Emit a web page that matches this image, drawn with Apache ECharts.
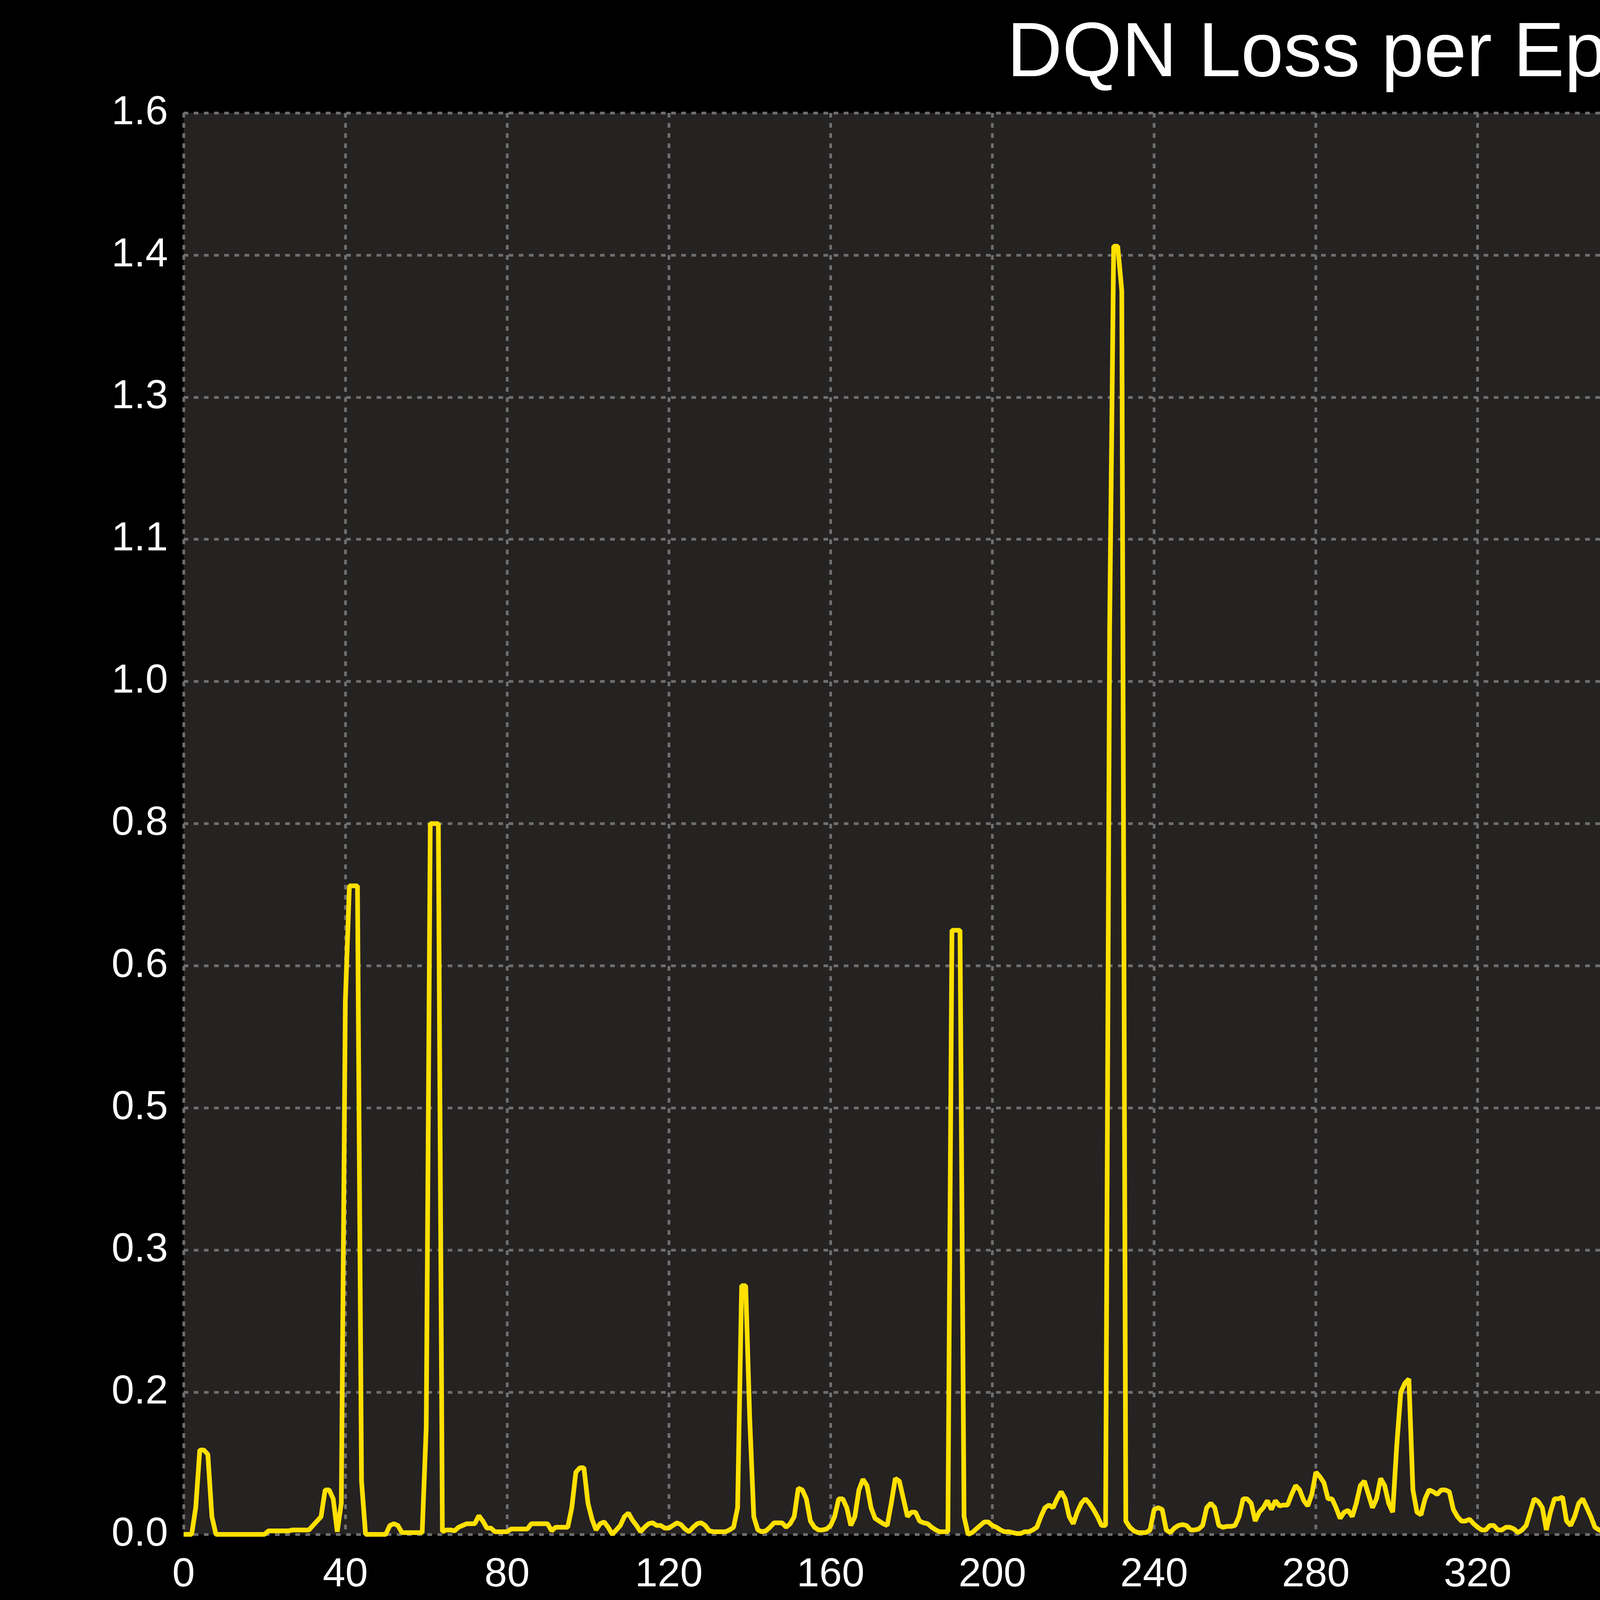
<!DOCTYPE html>
<html>
<head>
    <meta charset="utf-8">
    <title>DQN Loss per Episode</title>
    <script src="https://cdn.jsdelivr.net/npm/echarts@6/dist/echarts.min.js"></script>
    <style>
        html, body { margin: 0; padding: 0; background: #000; }
        #chart { width: 7680px; height: 4320px; }
    </style>
</head>
<body>
<div id="chart"></div>
<script type="text/javascript">
    // loss per episode, episode = index
    const loss = [
        0,0,0,0.03,0.095,0.095,0.09,0.02,0,0,
        0,0,0,0,0,0,0,0,0,0,
        0,0.004,0.004,0.004,0.004,0.004,0.004,0.005,0.005,0.005,
        0.005,0.005,0.01,0.015,0.02,0.05,0.05,0.04,0.003,0.035,
        0.6,0.73,0.73,0.73,0.06,0,0,0,0,0,
        0,0.01,0.012,0.01,0.002,0.002,0.002,0.002,0.002,0.002,
        0.12,0.8,0.8,0.8,0.003,0.005,0.005,0.004,0.008,0.01,
        0.012,0.012,0.012,0.021,0.015,0.007,0.007,0.003,0.003,0.003,
        0.003,0.006,0.006,0.006,0.006,0.006,0.012,0.012,0.012,0.012,
        0.012,0.004,0.008,0.008,0.008,0.008,0.03,0.07,0.075,0.075,
        0.035,0.017,0.005,0.012,0.014,0.008,0.0,0.005,0.01,0.02,
        0.024,0.016,0.01,0.003,0.008,0.012,0.013,0.01,0.01,0.007,
        0.007,0.01,0.013,0.011,0.006,0.003,0.008,0.012,0.013,0.01,
        0.004,0.003,0.003,0.003,0.003,0.005,0.008,0.03,0.28,0.28,
        0.13,0.02,0.005,0.003,0.004,0.008,0.013,0.013,0.013,0.008,
        0.012,0.02,0.052,0.05,0.04,0.015,0.008,0.005,0.005,0.006,
        0.01,0.02,0.04,0.04,0.03,0.01,0.02,0.05,0.062,0.055,
        0.03,0.018,0.015,0.012,0.01,0.035,0.063,0.06,0.04,0.02,
        0.025,0.025,0.015,0.013,0.012,0.008,0.005,0.003,0.003,0.003,
        0.68,0.68,0.68,0.02,0.0,0.002,0.006,0.01,0.014,0.014,
        0.01,0.008,0.005,0.003,0.003,0.002,0.001,0.001,0.003,0.003,
        0.005,0.008,0.02,0.03,0.033,0.03,0.04,0.048,0.04,0.02,
        0.012,0.025,0.035,0.04,0.035,0.028,0.02,0.01,0.01,1.02,
        1.45,1.45,1.4,0.015,0.008,0.004,0.002,0.002,0.002,0.005,
        0.028,0.03,0.028,0.005,0.002,0.007,0.01,0.011,0.01,0.005,
        0.005,0.006,0.01,0.03,0.035,0.03,0.01,0.008,0.009,0.009,
        0.01,0.02,0.04,0.04,0.035,0.015,0.025,0.03,0.038,0.028,
        0.038,0.032,0.033,0.033,0.045,0.055,0.05,0.038,0.032,0.045,
        0.07,0.065,0.058,0.04,0.04,0.03,0.018,0.025,0.027,0.02,
        0.035,0.055,0.06,0.045,0.03,0.04,0.063,0.055,0.035,0.025,
        0.1,0.16,0.17,0.175,0.05,0.025,0.022,0.04,0.05,0.048,
        0.045,0.05,0.05,0.048,0.028,0.02,0.015,0.015,0.017,0.012,
        0.008,0.005,0.005,0.01,0.01,0.005,0.005,0.008,0.008,0.006,
        0.002,0.005,0.01,0.025,0.04,0.037,0.03,0.005,0.025,0.04,
        0.04,0.042,0.015,0.01,0.02,0.035,0.04,0.03,0.02,0.008,
        0.005,0.003,0.003,0.003,0.003,0.003,0.003,0,0.003,0.007,
        0.01,0.008,0.012,0.015,0.017,0.01,0.006,0.008,0.03,0.058,
        0.055,0.045,0.005,0.004,0.006,0.01,0.018,0.025,0.028,0.03,
        0.02,0.015,0.01,0.012,0.018,0.022,0.04,0.09,0.18,0.17,
        0.15,0.02,0.013,0.015,0.022,0.03,0.035,0.033,0.035,0.025,
        0.028,0.03,0.035,0.042,0.04,0.035,0.025,0.022,0.025,0.025,
        0.018,0.018,0.02,0.06,0.06,0.05,0.015,0.05,0.15,0.175,
        0.18,0.12,0.05,0.03,0.02,0.01,0.02,0.03,0.035,0.025,
        0.017,0.025,0.035,0.038,0.035,0.035,0.035,0.018,0.01,0.013,
        0.02,0.025,0.027,0.027,0.027,0.02,0.015,0.015,0.018,0.022,
        0.022,0.02,0.022,0.022,0.012,0.01,0.02,0.045,0.048,0.035,
        0.012,0.01,0.025,0.05,0.055,0.045,0.02,0.007,0.005,0.008,
        0.012,0.025,0.03,0.025,0.015,0.022,0.025,0.025,0.04,0.052,
        0.052,0.015,0.013,0.013,0.022,0.035,0.042,0.042,0.025,0.018,
        0.012,0.008,0.006,0.006,0.013,0.02,0.045,0.05,0.057,0.052,
        0.05,0.04,0.025,0.017,0.022,0.017,0.018,0.025,0.026,0.028,
        0.015,0.012,0.008,0.01,0.012,0.03,0.03,0.022,0.015,0.015,
        0.015,0.015,0.018,0.035,0.03,0.025,0.008,0.013,0.018,0.015,
        0.008,0.012,0.015,0.03,0.03,0.03,0.025,0.02,0.025,0.018,
        0.015,0.01,0.005,0.008,0.01,0.01,0.007,0.007,0.007,0.008,
        0.02,0.022,0.022,0.01,0.008,0.007,0.007,0.01,0.013,0.015,
        0.02,0.025,0.023,0.01,0.003,0.007,0.013,0.02,0.018,0.013,
        0.003,0.005,0.008,0.008,0.01,0.02,0.022,0.02,0.012,0.012,
        0.01,0.01,0.01,0.013,0.015,0.015,0.01,0.002,0.003,0.007,
        0.007,0.006,0.004,0.003,0.003,0.003,0.003,0.002,0.002,0.005
    ];
    const titleText = 'DQN Loss per Episode';
    const yNote = 'y= Loss';
    const xNote = 'x= Episode';

    const points = loss.map((v, i) => [i, v]);
    const gridLine = { show: true, lineStyle: { color: '#6e6e6e', width: 7, type: [12, 14] } };
    const font = 'Liberation Sans, Arial, sans-serif';

    let myChart = echarts.init(document.getElementById('chart'));
    myChart.setOption({
        backgroundColor: '#000000',
        animation: false,
        title: {
            text: titleText,
            left: 3575, top: 38, textAlign: 'center',
            textStyle: { color: '#ffffff', fontSize: 196, fontWeight: 'normal', fontFamily: font }
        },
        grid: {
            left: 470, right: 1009, top: 289, bottom: 392,
            show: true, backgroundColor: '#252222', borderWidth: 0
        },
        xAxis: {
            type: 'value', min: 0, max: 599, interval: 40,
            axisLine: { show: false }, axisTick: { show: false },
            axisLabel: { color: '#ffffff', fontSize: 104, margin: 52, fontFamily: font },
            splitLine: gridLine
        },
        yAxis: {
            type: 'value', min: 0, max: 1.6, interval: 0.16,
            axisLine: { show: false }, axisTick: { show: false },
            axisLabel: {
                color: '#ffffff', fontSize: 104, margin: 40, fontFamily: font,
                formatter: v => v.toFixed(1)
            },
            splitLine: gridLine
        },
        graphic: [
            { type: 'text', left: 470, top: 4140, style: { text: yNote, fill: '#fff', fontSize: 138, fontFamily: font } },
            { type: 'text', left: 1405, top: 4140, style: { text: xNote, fill: '#fff', fontSize: 138, fontFamily: font } }
        ],
        series: [{
            type: 'line',
            data: points,
            showSymbol: false,
            lineStyle: { color: '#FFE000', width: 12 },
            clip: true
        }]
    });
</script>
</body>
</html>
